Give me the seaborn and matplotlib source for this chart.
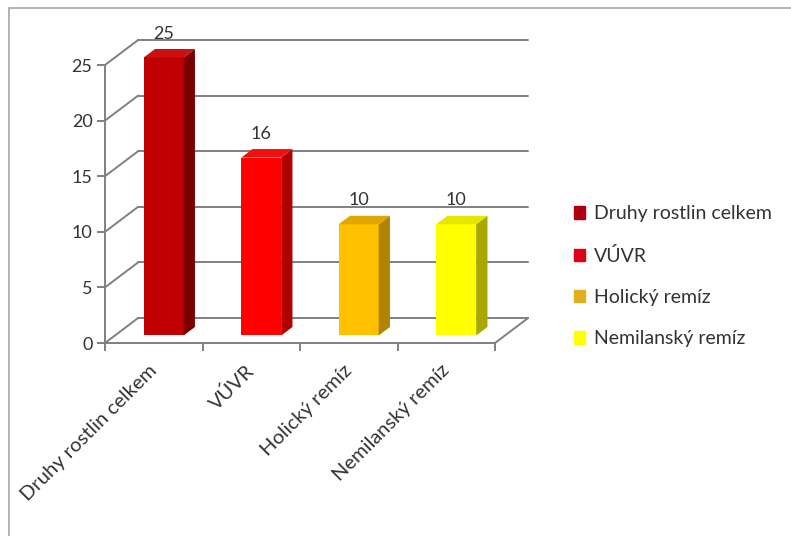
import matplotlib
matplotlib.use("Agg")
import matplotlib.pyplot as plt
from matplotlib.patches import Patch, Rectangle
from matplotlib.transforms import ScaledTranslation
import seaborn as sns

# data
categories = ["Druhy rostlin celkem", "VÚVR", "Holický remíz", "Nemilanský remíz"]
values = [25, 16, 10, 10]
yticks = [0, 5, 10, 15, 20, 25]

front_colors = ["#C00000", "#FF0000", "#FFC000", "#FFFF00"]
side_colors = ["#7A0000", "#B00000", "#B08400", "#A8A800"]
top_colors = ["#CC1010", "#F01010", "#E0A800", "#E6E600"]
legend_colors = ["#B00010", "#E0001A", "#E0B020", "#FFFF00"]

sns.set_theme(style="white")
plt.rcParams["font.family"] = ["Lato", "DejaVu Sans"]

W, H = 791, 536
fig = plt.figure(figsize=(W / 100, H / 100), dpi=100)

# axes placed so the front axis plane sits where the reference has it
px_cat = 97.5   # pixels per category
px_val = 11.12  # pixels per unit
left_px, right_px, zero_px, top_px = 105, 532, 343, 28
ax = fig.add_axes([left_px / W, (H - zero_px) / H,
                   (right_px - left_px) / W, (zero_px - top_px) / H])

# depth of the fake 3d box (in data units)
dx, dy = 0.34, 2.25
grid_c = "#808080"
fs = 13

sns.barplot(x=categories, y=values, hue=categories, palette=front_colors,
            saturation=1, width=0.41, legend=False, ax=ax, zorder=3)
ax.set_xlim(-0.5, -0.5 + (right_px - left_px) / px_cat)
ax.set_ylim(0, (zero_px - top_px) / px_val)

# back wall + side wall lines
for v in yticks:
    ax.plot([-0.5 + dx, 3.5 + dx], [v + dy, v + dy], color=grid_c, lw=1.4, zorder=0, clip_on=False)
    ax.plot([-0.5, -0.5 + dx], [v, v + dy], color=grid_c, lw=1.4, zorder=0, clip_on=False)
# floor
ax.plot([3.5, 3.5 + dx], [0, dy], color=grid_c, lw=1.4, zorder=0, clip_on=False)

# move bars to their depth and add side / top faces
f0, f1 = 0.30, 0.64
for i, p in enumerate(ax.patches[:len(values)]):
    x0, w, h = p.get_x(), p.get_width(), p.get_height()
    sx, sy = dx * f0, dy * f0
    bx, by = dx * (f1 - f0), dy * (f1 - f0)
    p.set_x(x0 + sx)
    p.set_y(sy)
    p.set_edgecolor("none")
    xl, xr, yb, yt = x0 + sx, x0 + sx + w, sy, sy + h
    ax.fill([xr, xr + bx, xr + bx, xr], [yb, yb + by, yt + by, yt],
            color=side_colors[i], zorder=3, lw=0)
    ax.fill([xl, xr, xr + bx, xl + bx], [yt, yt, yt + by, yt + by],
            color=top_colors[i], zorder=3, lw=0)
    ax.text(xl + w / 2, yt + 2.15, str(values[i]), ha="center", va="center",
            fontsize=fs, color="#333333", zorder=4)

# axes styling
for s in ["top", "right"]:
    ax.spines[s].set_visible(False)
ax.spines["left"].set_bounds(0, 25)
ax.spines["bottom"].set_bounds(-0.5, 3.5)
for s in ["left", "bottom"]:
    ax.spines[s].set_color(grid_c)
    ax.spines[s].set_linewidth(1.4)
ax.set_yticks(yticks)
ax.tick_params(axis="y", length=6, width=1.4, color=grid_c, labelsize=fs,
               labelcolor="#333333", pad=3, left=True)
ax.set_xticks(range(len(categories)))
ax.set_xticklabels(categories, rotation=45, ha="right", rotation_mode="anchor",
                   fontsize=14.5, color="#333333")
ax.tick_params(axis="x", length=0, pad=12)
shift = ScaledTranslation(-6 / 100, -2 / 100, fig.dpi_scale_trans)
for lab in ax.get_xticklabels():
    lab.set_transform(lab.get_transform() + shift)
ax.set_xticks([-0.5, 0.5, 1.5, 2.5, 3.5], minor=True)
ax.tick_params(axis="x", which="minor", length=6, width=1.4, color=grid_c, bottom=True)
ax.set_xlabel("")
ax.set_ylabel("")

handles = [Patch(color=c) for c in legend_colors]
fig.legend(handles, categories, loc="upper left",
           bbox_to_anchor=(556 / W, 1 - 188 / H), frameon=False,
           fontsize=14, labelcolor="#333333", labelspacing=1.25,
           handlelength=0.6, handleheight=0.6, handletextpad=0.45)

# outer chart border
fig.add_artist(Rectangle((9 / W, -0.1), 1.2, 1 - 8 / H + 0.1, transform=fig.transFigure,
                         fill=False, edgecolor="#a6a6a6", lw=1.2))

fig.savefig("out.png", dpi=100)
